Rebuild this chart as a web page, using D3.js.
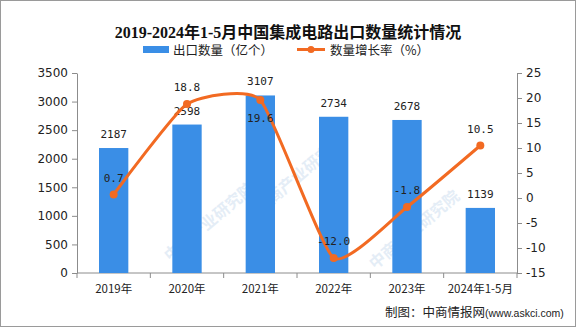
<!DOCTYPE html>
<html>
<head>
<meta charset="utf-8">
<script src="https://cdn.jsdelivr.net/npm/d3@7"></script>
<style>
  html, body { margin: 0; padding: 0; background: #fff; }
  svg { display: block; }
</style>
</head>
<body>
<svg id="chart" width="576" height="327"></svg>
<script>
// Export volume of integrated circuits, 2019 – Jan–May 2024
const categories = ["2019年", "2020年", "2021年", "2022年", "2023年", "2024年1-5月"];
const exportVolume = [2187, 2598, 3107, 2734, 2678, 1139];   // 亿个
const growthRate = [0.7, 18.8, 19.6, -12.0, -1.8, 10.5];      // %
const leftTicks = [0, 500, 1000, 1500, 2000, 2500, 3000, 3500];
const rightTicks = [-15, -10, -5, 0, 5, 10, 15, 20, 25];

const W = 576, H = 327;
const margin = { left: 77, right: 59, top: 73, bottom: 54 };
const plotL = margin.left, plotR = W - margin.right;
const plotT = margin.top, plotB = H - margin.bottom;

const barColor = "#3a8ee6";
const lineColor = "#f26a22";
const textColor = "#222";
const axisColor = "#8c8c8c";
const cjk = "'Noto Sans CJK SC', 'Noto Sans', sans-serif";

const svg = d3.select("#chart");

// background and frame
svg.append("rect").attr("x", 0.5).attr("y", 0.5).attr("width", W - 1).attr("height", H - 1)
  .attr("fill", "#fff").attr("stroke", "#9a9a9a").attr("stroke-width", 1);

// faint diagonal watermark
const wm = svg.append("g").attr("pointer-events", "none");
const wmSpots = [[170, 262], [260, 215], [375, 270]];
wmSpots.forEach(([px, py]) => {
  wm.append("text")
    .attr("transform", `translate(${px},${py}) rotate(-40)`)
    .attr("font-family", cjk).attr("font-size", 16).attr("font-weight", 700)
    .attr("fill", "#b4cde8").attr("opacity", 0.35)
    .text("中商产业研究院");
});

// scales
const x = d3.scaleBand().domain(categories).range([plotL, plotR]).paddingInner(0.6).paddingOuter(0.3);
const yL = d3.scaleLinear().domain([0, 3500]).range([plotB, plotT]);
const yR = d3.scaleLinear().domain([-15, 25]).range([plotB, plotT]);
const cx = c => x(c) + x.bandwidth() / 2;

// title
svg.append("text")
  .attr("x", W / 2).attr("y", 37.5).attr("text-anchor", "middle")
  .attr("font-family", "'Liberation Serif', 'Noto Sans CJK SC', serif")
  .attr("font-size", 16).attr("font-weight", 700).attr("fill", "#111")
  .text("2019-2024年1-5月中国集成电路出口数量统计情况");

// legend
const lg = svg.append("g").attr("font-family", cjk).attr("font-size", 12.5).attr("fill", textColor);
lg.append("rect").attr("x", 143).attr("y", 46).attr("width", 26).attr("height", 7).attr("fill", barColor);
lg.append("text").attr("x", 173).attr("y", 54.5).text("出口数量（亿个）");
lg.append("line").attr("x1", 297).attr("x2", 325).attr("y1", 49.5).attr("y2", 49.5)
  .attr("stroke", lineColor).attr("stroke-width", 3);
lg.append("circle").attr("cx", 311).attr("cy", 49.5).attr("r", 3.5).attr("fill", lineColor);
lg.append("text").attr("x", 330).attr("y", 54.5).text("数量增长率（%）");

// axes
function styleAxis(g) {
  g.select(".domain").attr("stroke", axisColor);
  g.selectAll(".tick line").attr("stroke", axisColor);
  g.selectAll(".tick text").attr("fill", textColor)
    .attr("font-family", "'DejaVu Sans', sans-serif").attr("font-size", 12);
}

svg.append("g").attr("transform", `translate(${plotL},0)`)
  .call(d3.axisLeft(yL).tickValues(leftTicks).tickSize(5).tickSizeOuter(0).tickPadding(4)
    .tickFormat(d3.format("d")))
  .call(styleAxis);

svg.append("g").attr("transform", `translate(${plotR},0)`)
  .call(d3.axisRight(yR).tickValues(rightTicks).tickSize(5).tickSizeOuter(0).tickPadding(4)
    .tickFormat(d => d < 0 ? "-" + Math.abs(d) : String(d)))
  .call(styleAxis);

// category axis with ticks between bands
const xAxis = svg.append("g").attr("transform", `translate(0,${plotB})`);
xAxis.append("line").attr("x1", plotL).attr("x2", plotR).attr("stroke", axisColor);
const bounds = d3.range(categories.length + 1).map(i => plotL + i * x.step());
xAxis.selectAll("line.tk").data(bounds).join("line").attr("class", "tk")
  .attr("x1", d => d).attr("x2", d => d).attr("y1", 0).attr("y2", 5).attr("stroke", axisColor);
xAxis.selectAll("text").data(categories).join("text")
  .attr("x", d => cx(d)).attr("y", 20).attr("text-anchor", "middle")
  .attr("font-family", cjk).attr("font-size", 11.5).attr("fill", textColor)
  .text(d => d);

// bars
const bars = categories.map((c, i) => ({ c, v: exportVolume[i], g: growthRate[i] }));
svg.append("g").selectAll("rect").data(bars).join("rect")
  .attr("x", d => x(d.c)).attr("width", x.bandwidth())
  .attr("y", d => yL(d.v)).attr("height", d => yL(0) - yL(d.v))
  .attr("fill", barColor);

// bar value labels
const monoFont = "'DejaVu Sans Mono', 'Liberation Mono', monospace";
svg.append("g").selectAll("text").data(bars).join("text")
  .attr("x", d => cx(d.c)).attr("y", d => yL(d.v) - 10)
  .attr("text-anchor", "middle").attr("font-family", monoFont).attr("font-size", 11)
  .attr("fill", textColor).text(d => d.v);

// growth line
const line = d3.line().x(d => cx(d.c)).y(d => yR(d.g)).curve(d3.curveCardinal.tension(0.5));
svg.append("path").datum(bars).attr("d", line)
  .attr("fill", "none").attr("stroke", lineColor).attr("stroke-width", 3).attr("stroke-linejoin", "round");
svg.append("g").selectAll("circle").data(bars).join("circle")
  .attr("cx", d => cx(d.c)).attr("cy", d => yR(d.g)).attr("r", 4).attr("fill", lineColor);

// growth labels: above the point unless that would overlap the bar's own label
svg.append("g").selectAll("text").data(bars).join("text")
  .attr("x", d => cx(d.c))
  .attr("y", d => {
    const above = yR(d.g) - 13;
    const barLabel = yL(d.v) - 10;
    return Math.abs(above - barLabel) < 12 ? yR(d.g) + 22 : above;
  })
  .attr("text-anchor", "middle").attr("font-family", monoFont).attr("font-size", 11)
  .attr("fill", textColor).text(d => d.g.toFixed(1));

// source note
const src = svg.append("text").attr("x", 385).attr("y", 317).attr("fill", textColor);
src.append("tspan").attr("font-family", cjk).attr("font-size", 12.5).text("制图：中商情报网");
src.append("tspan").attr("font-family", "'Liberation Sans', sans-serif").attr("font-size", 10.5).text("(www.askci.com)");
</script>
</body>
</html>
